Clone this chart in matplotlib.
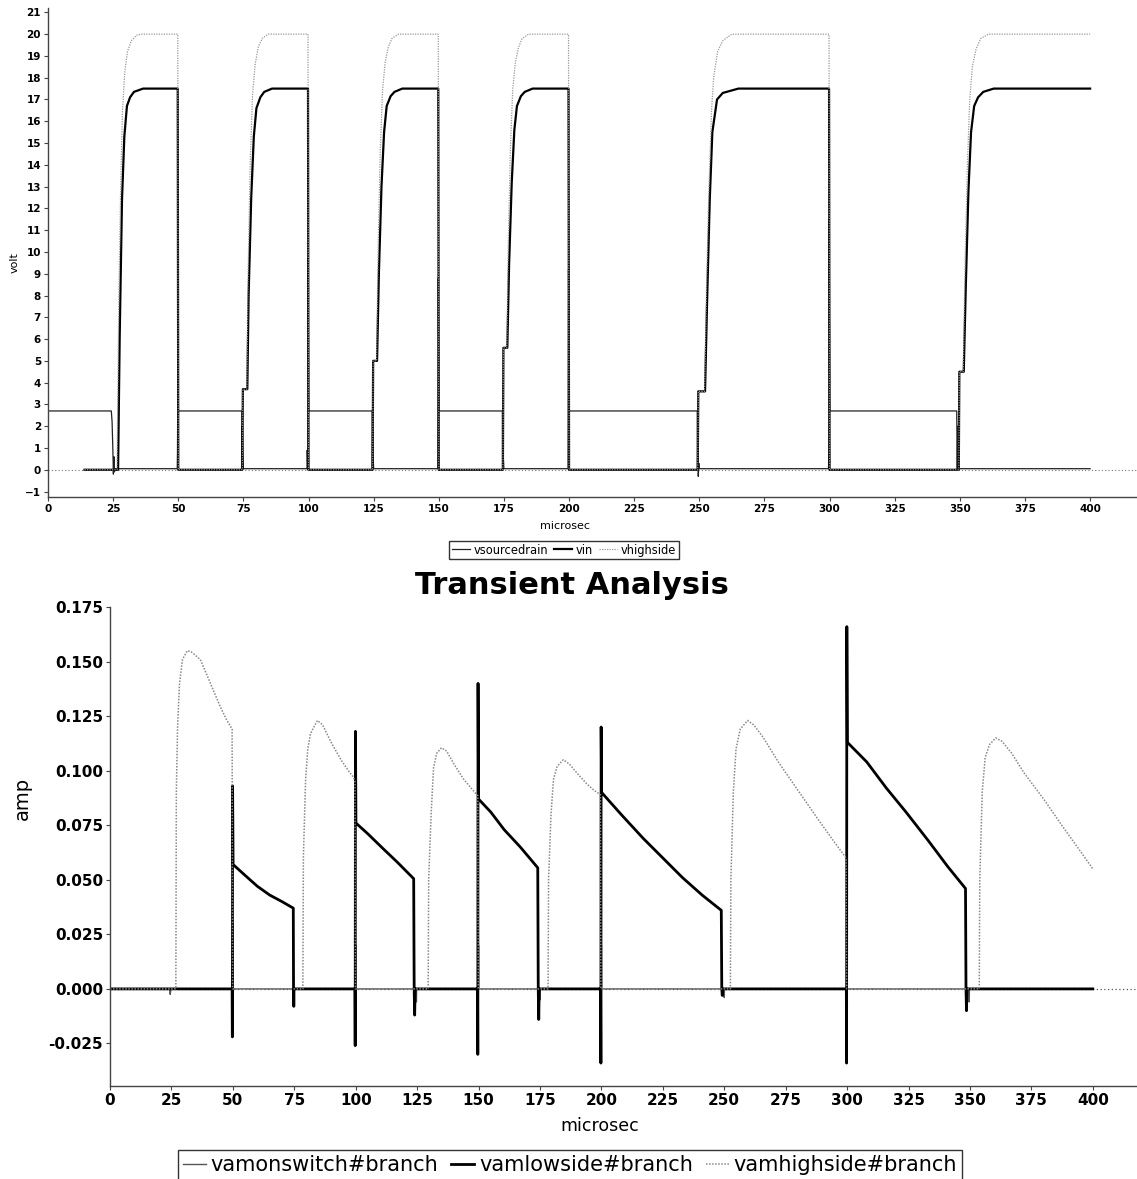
import matplotlib
matplotlib.use("Agg")
import matplotlib.pyplot as plt
import numpy as np

# ---- top panel: voltages (microsec, volt) ----
vsourcedrain = [(0, 2.7), (24.3, 2.7), (24.6, 2.2), (24.9, 0.9), (25.1, -0.2), (25.3, 0.6), (25.5, -0.1),
                (25.8, 0.05), (49.6, 0.05), (49.7, 0.8), (49.9, 5.8), (50.05, 2.7),
                (74.4, 2.7), (74.5, 0.0), (74.6, 2.0), (74.8, 0.8), (75.0, 0.05), (99.4, 0.05), (99.5, 0.9),
                (99.7, 0.0), (99.85, 9.7), (100.05, 2.7),
                (124.4, 2.7), (124.5, 0.0), (124.6, 1.8), (124.8, 0.6), (125.0, 0.05), (149.6, 0.05),
                (149.8, 8.8), (150.05, 2.7),
                (174.4, 2.7), (174.5, 0.0), (174.6, 2.0), (174.8, 0.5), (175.0, 0.05), (199.6, 0.05),
                (199.8, 9.2), (200.05, 2.7),
                (249.2, 2.7), (249.3, 0.0), (249.4, 1.9), (249.6, -0.3), (249.8, 0.3), (250.0, 0.05),
                (299.6, 0.05), (299.7, 1.0), (299.85, 11.5), (300.05, 2.7),
                (348.8, 2.7), (349.0, 0.0), (349.2, 2.0), (349.5, 0.4), (349.8, 0.05), (400, 0.05)]

vin = [(14, 0), (25, 0), (26.9, 0), (27.5, 6.0), (28.4, 12.4), (29.3, 15.3), (30.3, 16.7), (31.5, 17.1),
       (33, 17.35), (36.5, 17.5), (49.8, 17.5), (50.0, 0),
       (74.6, 0), (74.8, 3.7), (76.5, 3.7), (77.0, 8.0), (78.0, 12.5), (79.0, 15.3), (80.0, 16.6),
       (81.5, 17.1), (83.0, 17.35), (86.0, 17.5), (99.8, 17.5), (100.0, 0),
       (124.6, 0), (124.8, 5.0), (126.3, 5.0), (127.0, 9.0), (128.0, 13.0), (129.0, 15.5), (130.0, 16.7),
       (131.5, 17.15), (133.0, 17.35), (136.0, 17.5), (149.8, 17.5), (150.0, 0),
       (174.6, 0), (174.8, 5.6), (176.3, 5.6), (177.0, 9.5), (178.0, 13.2), (179.0, 15.6), (180.0, 16.7),
       (181.5, 17.15), (183.0, 17.35), (186.0, 17.5), (199.8, 17.5), (200.0, 0),
       (249.4, 0), (249.6, 3.6), (252.2, 3.6), (253.0, 7.8), (254.0, 12.4), (255.0, 15.5), (256.8, 17.0),
       (259.0, 17.3), (265.0, 17.5), (299.8, 17.5), (300.0, 0),
       (349.6, 0), (349.8, 4.5), (351.5, 4.5), (352.3, 8.5), (353.3, 12.8), (354.3, 15.5), (355.5, 16.7),
       (357.0, 17.1), (359.0, 17.35), (363.0, 17.5), (400.0, 17.5)]

vhighside = [(14, 0), (26.5, 0), (27.2, 8), (27.9, 13), (28.6, 16.5), (29.5, 18.3), (30.5, 19.2), (32.0, 19.7),
             (34.0, 19.95), (36.0, 20), (49.8, 20), (50.0, 0),
             (74.6, 0), (74.8, 3.7), (76.3, 3.7), (76.8, 9), (77.6, 14), (78.5, 17.2), (79.5, 18.6),
             (80.7, 19.4), (82.2, 19.8), (84.5, 20), (99.8, 20), (100.0, 0),
             (124.6, 0), (124.8, 5.0), (126.1, 5.0), (126.7, 10), (127.5, 14.5), (128.4, 17.4), (129.4, 18.7),
             (130.6, 19.4), (132.0, 19.8), (134.5, 20), (149.8, 20), (150.0, 0),
             (174.6, 0), (174.8, 5.6), (176.1, 5.6), (176.7, 10.5), (177.5, 14.8), (178.4, 17.5), (179.4, 18.7),
             (180.6, 19.4), (182.0, 19.8), (184.5, 20), (199.8, 20), (200.0, 0),
             (249.4, 0), (249.6, 3.6), (252.0, 3.6), (252.8, 8.5), (253.7, 13), (254.7, 16.5), (255.5, 18),
             (257.0, 19.2), (259.0, 19.7), (262.5, 20), (299.8, 20), (300.0, 0),
             (349.6, 0), (349.8, 4.5), (351.3, 4.5), (352.0, 9.5), (352.9, 14), (353.8, 17), (354.8, 18.5),
             (356.2, 19.3), (358.0, 19.8), (361.0, 20), (400.0, 20)]

# ---- bottom panel: branch currents (microsec, amp) ----
vamonswitch = [(0, 0), (24.3, 0), (24.5, -0.0025), (24.8, 0), (49.9, 0), (50.0, 0.03), (50.1, -0.01), (50.2, 0),
               (74.7, 0), (74.8, -0.005), (74.9, 0), (99.9, 0), (100.0, 0.02), (100.1, 0),
               (124.6, 0), (124.7, -0.006), (124.8, 0), (149.9, 0), (150.0, 0.02), (150.1, 0),
               (174.9, 0), (175.0, -0.005), (175.1, 0), (199.9, 0), (200.0, 0.02), (200.1, 0),
               (249.9, 0), (250.0, -0.004), (250.1, 0), (299.9, 0), (300.0, 0.02), (300.1, 0),
               (349.6, 0), (349.7, -0.006), (349.8, 0), (400, 0)]

vamlowside = [(0, 0), (49.7, 0), (49.8, -0.022), (49.9, 0.093), (50.1, 0.057), (55, 0.052), (60, 0.047),
              (65, 0.043), (70, 0.040), (74.6, 0.037), (74.7, 0.0), (74.8, -0.008), (74.9, 0),
              (99.7, 0), (99.8, -0.026), (99.9, 0.118), (100.1, 0.076), (105, 0.071), (111.4, 0.064),
              (117, 0.058), (123.6, 0.0505), (123.8, 0.0), (124.0, -0.012), (124.2, 0),
              (149.6, 0), (149.7, -0.030), (149.8, 0.140), (150.0, 0.087), (155, 0.081), (160.4, 0.073),
              (167, 0.065), (174.1, 0.0555), (174.3, 0.0), (174.5, -0.014), (174.7, 0),
              (199.7, 0), (199.8, -0.034), (199.9, 0.120), (200.1, 0.090), (208, 0.080), (217, 0.069),
              (225, 0.060), (233, 0.051), (241, 0.043), (248.8, 0.036), (249.0, 0.0), (249.2, -0.003), (249.4, 0),
              (299.7, 0), (299.8, -0.034), (299.9, 0.166), (300.1, 0.113), (308, 0.104), (316, 0.092),
              (324, 0.081), (333, 0.068), (341, 0.056), (348.2, 0.046), (348.4, 0.0), (348.6, -0.010),
              (348.8, 0), (400, 0)]

vamhighside = [(0, 0), (26.8, 0), (27.0, 0.09), (27.5, 0.12), (28.3, 0.14), (29.5, 0.151), (31.5, 0.155),
               (33, 0.1545), (36.7, 0.151), (39, 0.145), (42, 0.137), (45, 0.129), (47.6, 0.123),
               (49.7, 0.119), (49.9, 0.0),
               (78.5, 0), (78.7, 0.06), (79.6, 0.0955), (80.5, 0.11), (81.6, 0.117), (84.4, 0.123),
               (86.5, 0.121), (90, 0.113), (94, 0.105), (97, 0.100), (99.1, 0.097), (99.7, 0.095), (99.9, 0.0),
               (129.5, 0), (129.7, 0.05), (130.7, 0.08), (131.7, 0.1015), (133, 0.108), (134.9, 0.1105),
               (137, 0.109), (140, 0.103), (144, 0.096), (147, 0.092), (149.7, 0.0885), (149.9, 0),
               (178.3, 0), (178.5, 0.05), (179.5, 0.08), (180.5, 0.096), (182, 0.102), (184.5, 0.105),
               (187, 0.103), (190, 0.099), (194, 0.094), (197, 0.091), (199.6, 0.089), (199.8, 0),
               (252.5, 0), (252.7, 0.05), (253.7, 0.09), (254.8, 0.11), (256.5, 0.119), (259.5, 0.123),
               (262, 0.121), (266, 0.115), (272, 0.104), (280, 0.091), (288, 0.078), (295, 0.067),
               (299.6, 0.060), (299.8, 0.0),
               (353.8, 0), (354.0, 0.05), (355, 0.09), (356.2, 0.106), (358, 0.112), (360.5, 0.115),
               (363, 0.1135), (367, 0.108), (372, 0.099), (380, 0.087), (388, 0.074), (395, 0.063), (400, 0.055)]

top_names = ["vsourcedrain", "vin", "vhighside"]
bot_names = ["vamonswitch#branch", "vamlowside#branch", "vamhighside#branch"]

W, H = 1137, 1179
fig = plt.figure(figsize=(W / 100, H / 100), dpi=100)


def px_axes(l, t, r, b):
    return fig.add_axes([l / W, 1 - b / H, (r - l) / W, (b - t) / H])


def style_axes(ax, size):
    for s in ["top", "right"]:
        ax.spines[s].set_visible(False)
    for s in ["left", "bottom"]:
        ax.spines[s].set_color("#444444")
        ax.spines[s].set_linestyle((0, (1, 1)))
        ax.spines[s].set_linewidth(1.0)
    ax.tick_params(length=3, width=0.8, color="#444444", labelsize=size, pad=2)
    for lab in ax.get_xticklabels() + ax.get_yticklabels():
        lab.set_fontweight("bold")


# top panel
ax1 = px_axes(48, 8, 1137, 497)
t, v = np.array(vsourcedrain).T
ax1.plot(t, v, color="#222222", lw=0.9, label=top_names[0])
t, v = np.array(vin).T
ax1.plot(t, v, color="black", lw=1.6, label=top_names[1])
t, v = np.array(vhighside).T
ax1.plot(t, v, color="#999999", lw=0.9, ls=(0, (1, 1)), label=top_names[2])
ax1.axhline(0, color="#777777", lw=0.8, ls=(0, (1, 2)), zorder=0)
ax1.set_xlim(0, 418)
ax1.set_ylim(-1.25, 21.2)
ax1.set_xticks(np.arange(0, 401, 25))
ax1.set_yticks(np.arange(-1, 22, 1))
style_axes(ax1, 7.5)
ax1.set_xlabel("microsec", fontsize=8)
ax1.set_ylabel("volt", fontsize=8)
ax1.xaxis.set_label_coords((565 - 48) / 1089, -0.05)
ax1.yaxis.set_label_coords(-0.026, 0.48)

h1, l1 = ax1.get_legend_handles_labels()
fig.legend(h1, l1, loc="center", bbox_to_anchor=(564 / W, 1 - 550 / H), ncol=3, fontsize=8.3,
           frameon=True, fancybox=False, edgecolor="black", handlelength=1.6, handletextpad=0.3,
           columnspacing=0.5, borderpad=0.25, borderaxespad=0)

fig.text(572 / W, 1 - 586 / H, "Transient Analysis", ha="center", va="center",
         fontsize=22, fontweight="heavy")

# bottom panel
ax2 = px_axes(110, 607, 1137, 1086)
t, v = np.array(vamonswitch).T
ax2.plot(t, v, color="#555555", lw=1.0, label=bot_names[0])
t, v = np.array(vamlowside).T
ax2.plot(t, v, color="black", lw=2.0, label=bot_names[1])
t, v = np.array(vamhighside).T
ax2.plot(t, v, color="#888888", lw=1.1, ls=(0, (1, 1)), label=bot_names[2])
ax2.axhline(0, color="#555555", lw=0.9, ls=(0, (1, 2)), zorder=0)
ax2.set_xlim(0, 418)
ax2.set_ylim(-0.0445, 0.175)
ax2.set_xticks(np.arange(0, 401, 25))
ax2.set_yticks(np.arange(-0.025, 0.176, 0.025))
ax2.yaxis.set_major_formatter(matplotlib.ticker.FormatStrFormatter("%.3f"))
style_axes(ax2, 11)
ax2.set_xlabel("microsec", fontsize=12.5)
ax2.set_ylabel("amp", fontsize=14)
ax2.xaxis.set_label_coords((600 - 110) / 1027, -0.065)
ax2.yaxis.set_label_coords(-0.076, 0.6)

h2, l2 = ax2.get_legend_handles_labels()
fig.legend(h2, l2, loc="center", bbox_to_anchor=(570 / W, 1 - 1165 / H), ncol=3, fontsize=15,
           frameon=True, fancybox=False, edgecolor="black", handlelength=1.1, handletextpad=0.25,
           columnspacing=0.6, borderpad=0.25, borderaxespad=0)

fig.savefig("out.png", dpi=100)
